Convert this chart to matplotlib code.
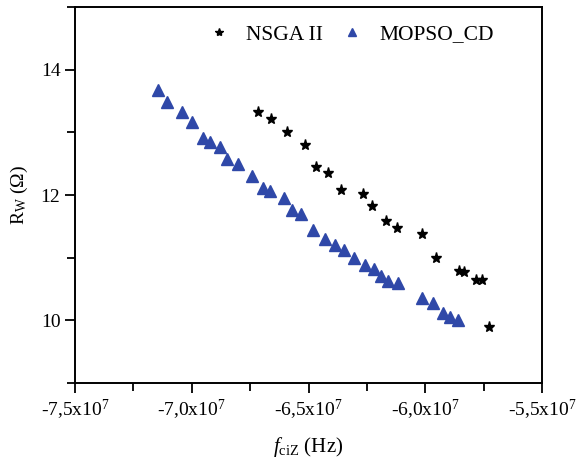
import numpy as np
import matplotlib
matplotlib.use("Agg")
import matplotlib.pyplot as plt
from matplotlib.ticker import FuncFormatter, MultipleLocator

plt.rcParams['font.family'] = ['Liberation Serif', 'DejaVu Serif']
plt.rcParams['mathtext.fontset'] = 'custom'
plt.rcParams['mathtext.rm'] = 'Liberation Serif'
plt.rcParams['mathtext.it'] = 'Liberation Serif:italic'

# NSGA II front (x in units of 1e7 Hz)
nsga_x = [-6.717, -6.660, -6.594, -6.517, -6.466, -6.416, -6.360, -6.265, -6.226,
          -6.167, -6.120, -6.016, -5.952, -5.857, -5.835, -5.784, -5.758, -5.729]
nsga_y = [13.32, 13.21, 13.00, 12.80, 12.44, 12.35, 12.08, 12.01, 11.82,
          11.59, 11.47, 11.38, 11.00, 10.78, 10.77, 10.65, 10.65, 9.90]

# MOPSO_CD front
mopso_x = [-7.143, -7.106, -7.040, -6.997, -6.951, -6.921, -6.877, -6.849, -6.803,
           -6.740, -6.693, -6.663, -6.603, -6.571, -6.534, -6.480, -6.428, -6.386,
           -6.350, -6.307, -6.257, -6.220, -6.189, -6.158, -6.116, -6.015, -5.967,
           -5.923, -5.893, -5.859]
mopso_y = [13.68, 13.49, 13.33, 13.16, 12.91, 12.84, 12.77, 12.58, 12.50,
           12.30, 12.11, 12.07, 11.96, 11.76, 11.69, 11.44, 11.29, 11.20,
           11.12, 10.99, 10.89, 10.82, 10.70, 10.63, 10.59, 10.35, 10.27,
           10.11, 10.05, 10.00]

nsga_x = np.array(nsga_x) * 1e7
mopso_x = np.array(mopso_x) * 1e7

fig = plt.figure(figsize=(5.79, 4.67), dpi=100)
ax = fig.add_axes([75 / 579, 84 / 467, (542 - 75) / 579, (383 - 7) / 467])

ax.plot(nsga_x, nsga_y, linestyle='none', marker='*', markersize=8,
        color='black', label='NSGA II')
ax.plot(mopso_x, mopso_y, linestyle='none', marker='^', markersize=8.5,
        color='#2F48A8', label='MOPSO_CD')

ax.set_xlim(-7.5e7, -5.5e7)
ax.set_ylim(9, 15)
ax.xaxis.set_major_locator(MultipleLocator(0.5e7))
ax.xaxis.set_minor_locator(MultipleLocator(0.25e7))
ax.yaxis.set_major_locator(MultipleLocator(2))
ax.yaxis.set_minor_locator(MultipleLocator(1))


def xfmt(v, pos):
    s = f"{v / 1e7:.1f}".replace('.', ',')
    return s + r"x10$^{7}$"


ax.xaxis.set_major_formatter(FuncFormatter(xfmt))
ax.tick_params(which='both', direction='out', width=1.3, labelsize=14,
               top=False, right=False)
ax.tick_params(which='major', length=7)
ax.tick_params(which='minor', length=6)
for sp in ax.spines.values():
    sp.set_linewidth(1.4)

ax.set_xlabel(r"$\mathit{f}_{\mathrm{ciZ}}$ (Hz)", fontsize=15, labelpad=10)
ax.set_ylabel(r"R$_{\mathrm{W}}$ ($\Omega$)", fontsize=14, labelpad=8)

ax.legend(loc='upper center', bbox_to_anchor=(0.585, 1.005), ncol=2,
          frameon=False, fontsize=15.5, markerscale=0.75, handletextpad=0.5,
          columnspacing=0.6, handlelength=1.5)

fig.savefig("out.png", dpi=100)
